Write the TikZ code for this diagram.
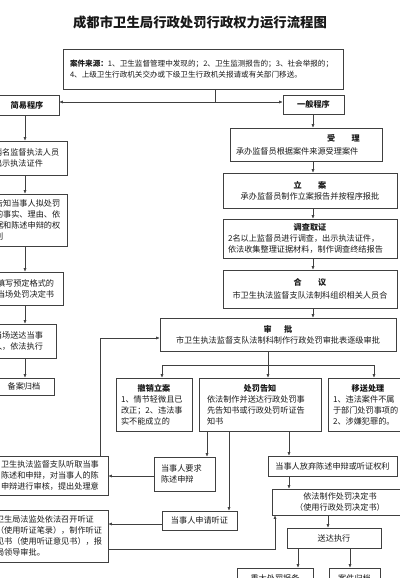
\documentclass[tikz,border=0pt]{standalone}
\usepackage{fontspec}
\setmainfont{Noto Sans CJK SC}
\usepackage{tikz}
\usetikzlibrary{arrows.meta, positioning, calc}

\newcommand{\bodyfont}{\fontsize{11.6}{15.6}\selectfont}
\newcommand{\srcfont}{\fontsize{10.8}{15.6}\selectfont}
\newcommand{\headfont}{\fontsize{19}{22}\selectfont\bfseries}
\newcommand{\boxhead}[1]{\hspace*{\fill}\textbf{#1}\hspace*{\fill}\mbox{}}

\begin{document}
\begin{tikzpicture}[
		x=0.05cm, y=-0.05cm,
		box/.style={
				draw=black!75,
				line width=0.9pt,
				inner sep=0pt,
				text=black!90,
				font=\bodyfont
			},
		flow/.style={draw=black!75, line width=0.9pt, -{Latex[length=5pt, width=4.5pt]}},
		wire/.style={draw=black!75, line width=0.9pt}
	]
	\useasboundingbox (0, 0) rectangle (400, 578);
	\clip (0, 0) rectangle (400, 578);

	\node[font=\headfont, text=black!90] (title) at (200, 22) {成都市卫生局行政处罚行政权力运行流程图};

	% case source
	\node[box, font=\srcfont, minimum width=14cm, minimum height=2cm, text width=13.3cm, align=left] (src) at (203, 69)
	{\textbf{案件来源：}1、卫生监督管理中发现的；2、卫生监测报告的；3、社会举报的；\\4、上级卫生行政机关交办或下级卫生行政机关报请或有关部门移送。};

	% simple procedure, left column (cut by the page edge)
	\node[box, minimum width=3.2cm, minimum height=1cm] (easy) at (27, 105) {\textbf{简易程序}};
	\node[box, minimum width=3.95cm, minimum height=1.7cm, text width=3.35cm, align=left] (staff) at (27.5, 158) {两名监督执法人员\\出示执法证件};
	\node[box, minimum width=3.95cm, minimum height=2.6cm, text width=3.25cm, align=left] (inform) at (27.5, 220) {告知当事人拟处罚\\的事实、理由、依\\据和陈述申辩的权\\利};
	\node[box, minimum width=3.75cm, minimum height=1.65cm, text width=2.85cm, align=left] (form) at (25.5, 288.5) {填写预定格式的\\当场处罚决定书};
	\node[box, minimum width=3.4cm, minimum height=1.7cm, text width=2.8cm, align=left] (onsite) at (22, 341) {当场送达当事\\人，依法执行};
	\node[box, minimum width=3cm, minimum height=0.85cm] (fileA) at (24, 386.5) {备案归档};

	% general procedure, right column
	\node[box, minimum width=3.05cm, minimum height=0.95cm] (general) at (313.5, 104.5) {\textbf{一般程序}};
	\node[box, minimum width=7.6cm, minimum height=1.65cm, text width=7cm, align=left] (accept) at (306, 144.5)
	{\hspace*{\fill}\textbf{受\hspace{2em}理}\hspace*{2em}\mbox{}\\[3pt]承办监督员根据案件来源受理案件};
	\node[box, minimum width=8.7cm, minimum height=1.75cm, align=center] (register) at (310, 190.5)
	{\textbf{立\hspace{2em}案}\\承办监督员制作立案报告并按程序报批};
	\node[box, minimum width=8.7cm, minimum height=1.95cm, text width=8.2cm, align=left] (survey) at (310, 238.5)
	{\boxhead{调查取证}\\[1pt]2名以上监督员进行调查，出示执法证件，\\依法收集整理证据材料，制作调查终结报告};
	\node[box, minimum width=8.7cm, minimum height=1.9cm, align=center] (council) at (310, 289)
	{\textbf{合\hspace{2em}议}\\[2pt]市卫生执法监督支队法制科组织相关人员合};
	\node[box, minimum width=11.8cm, minimum height=1.65cm, align=center] (approve) at (278, 334.5)
	{\textbf{审\hspace{1.5em}批}\\市卫生执法监督支队法制科制作行政处罚审批表逐级审批};

	% three outcomes of the approval
	\node[box, minimum width=3.8cm, minimum height=2.65cm, text width=3.3cm, align=left] (revoke) at (154, 404.5)
	{\boxhead{撤销立案}\\1、情节轻微且已\\改正；2、违法事\\实不能成立的};
	\node[box, minimum width=6.1cm, minimum height=2.65cm, text width=5.3cm, align=left] (notice) at (260, 404.5)
	{\boxhead{处罚告知}\\依法制作并送达行政处罚事\\先告知书或行政处罚听证告\\知书};
	\node[box, minimum width=4cm, minimum height=2.65cm, text width=3.5cm, align=left] (transfer) at (368, 404.5)
	{\boxhead{移送处理}\\1、违法案件不属\\于部门处罚事项的\\2、涉嫌犯罪的。};

	% party's responses
	\node[box, minimum width=3.05cm, minimum height=1.7cm, text width=2.35cm, align=left] (plead) at (184.5, 474) {当事人要求\\陈述申辩};
	\node[box, minimum width=3.75cm, minimum height=0.95cm] (askhear) at (199.5, 520.5) {当事人申请听证};
	\node[box, minimum width=6.45cm, minimum height=1cm] (waive) at (332.5, 466) {当事人放弃陈述申辩或听证权利};
	\node[box, minimum width=6.15cm, minimum height=1.95cm, text width=4.55cm, align=left] (review) at (46.5, 475.5)
	{卫生执法监督支队听取当事\\陈述和申辩，对当事人的陈\\申辩进行审核，提出处理意};
	\node[box, minimum width=6.15cm, minimum height=2.6cm, text width=5.05cm, align=left] (hearing) at (46.5, 536)
	{卫生局法监处依法召开听证\\（使用听证笔录），制作听证\\见书（使用听证意见书），报\\局领导审批。};

	% decision and execution
	\node[box, minimum width=6.8cm, minimum height=1.3cm, align=center] (decide) at (340, 502) {依法制作处罚决定书\\[1pt]（使用行政处罚决定书）};
	\node[box, minimum width=4.7cm, minimum height=1cm] (deliver) at (334, 538) {送达执行};
	\node[box, minimum width=3.8cm, minimum height=1cm] (report) at (275, 578) {重大处罚报备};
	\node[box, minimum width=2.55cm, minimum height=1cm] (fileB) at (354.5, 578) {案件归档};

	% junction points
	\coordinate (split) at (215, 102);
	\coordinate (leftx) at (25, 0);
	\coordinate (mainx) at (313, 0);
	\coordinate (fork) at (268, 365);
	\coordinate (forkl) at (162, 365);
	\coordinate (forkr) at (374, 365);
	\coordinate (back) at (100, 338);
	\coordinate (toplead) at (207, 0);
	\coordinate (tohear) at (229, 0);
	\coordinate (towaive) at (289, 0);
	\coordinate (pleady) at (0, 476);
	\coordinate (heary) at (0, 524);
	\coordinate (loop) at (275, 549);
	\coordinate (decx) at (328, 0);
	\coordinate (repx) at (298, 0);
	\coordinate (filex) at (350, 0);

	\draw[wire] (split |- src.south) -- (split);
	\draw[flow] (split) -- (split -| easy.east);
	\draw[flow] (split) -- (split -| general.west);

	\draw[flow] (leftx |- easy.south) -- (leftx |- staff.north);
	\draw[flow] (leftx |- staff.south) -- (leftx |- inform.north);
	\draw[flow] (leftx |- inform.south) -- (leftx |- form.north);
	\draw[flow] (leftx |- form.south) -- (leftx |- onsite.north);
	\draw[flow] (leftx |- onsite.south) -- (leftx |- fileA.north);

	\draw[flow] (mainx |- general.south) -- (mainx |- accept.north);
	\draw[flow] (mainx |- accept.south) -- (mainx |- register.north);
	\draw[flow] (mainx |- register.south) -- (mainx |- survey.north);
	\draw[flow] (mainx |- survey.south) -- (mainx |- council.north);
	\draw[flow] (mainx |- council.south) -- (mainx |- approve.north);

	\draw[wire] (fork |- approve.south) -- (fork);
	\draw[wire] (forkl) -- (forkr);
	\draw[flow] (forkl) -- (forkl |- revoke.north);
	\draw[flow] (fork) -- (fork |- notice.north);
	\draw[flow] (forkr) -- (forkr |- transfer.north);

	\draw[flow] (toplead |- notice.south) -- (toplead |- plead.north);
	\draw[flow] (tohear |- notice.south) -- (tohear |- askhear.north);
	\draw[flow] (towaive |- notice.south) -- (towaive |- waive.north);
	\draw[flow] (pleady -| plead.west) -- (pleady -| review.east);
	\draw[flow] (heary -| askhear.west) -- (heary -| hearing.east);
	\draw[flow] (back |- review.north) -- (back) -- (back -| approve.west);

	\draw[flow] (loop -| hearing.east) -- (loop) -- (loop |- decide.south);
	\draw[flow] (towaive |- waive.south) -- (towaive |- decide.north);
	\draw[flow] (decx |- decide.south) -- (decx |- deliver.north);
	\draw[flow] (repx |- deliver.south) -- (repx |- report.north);
	\draw[flow] (filex |- deliver.south) -- (filex |- fileB.north);
\end{tikzpicture}
\end{document}
